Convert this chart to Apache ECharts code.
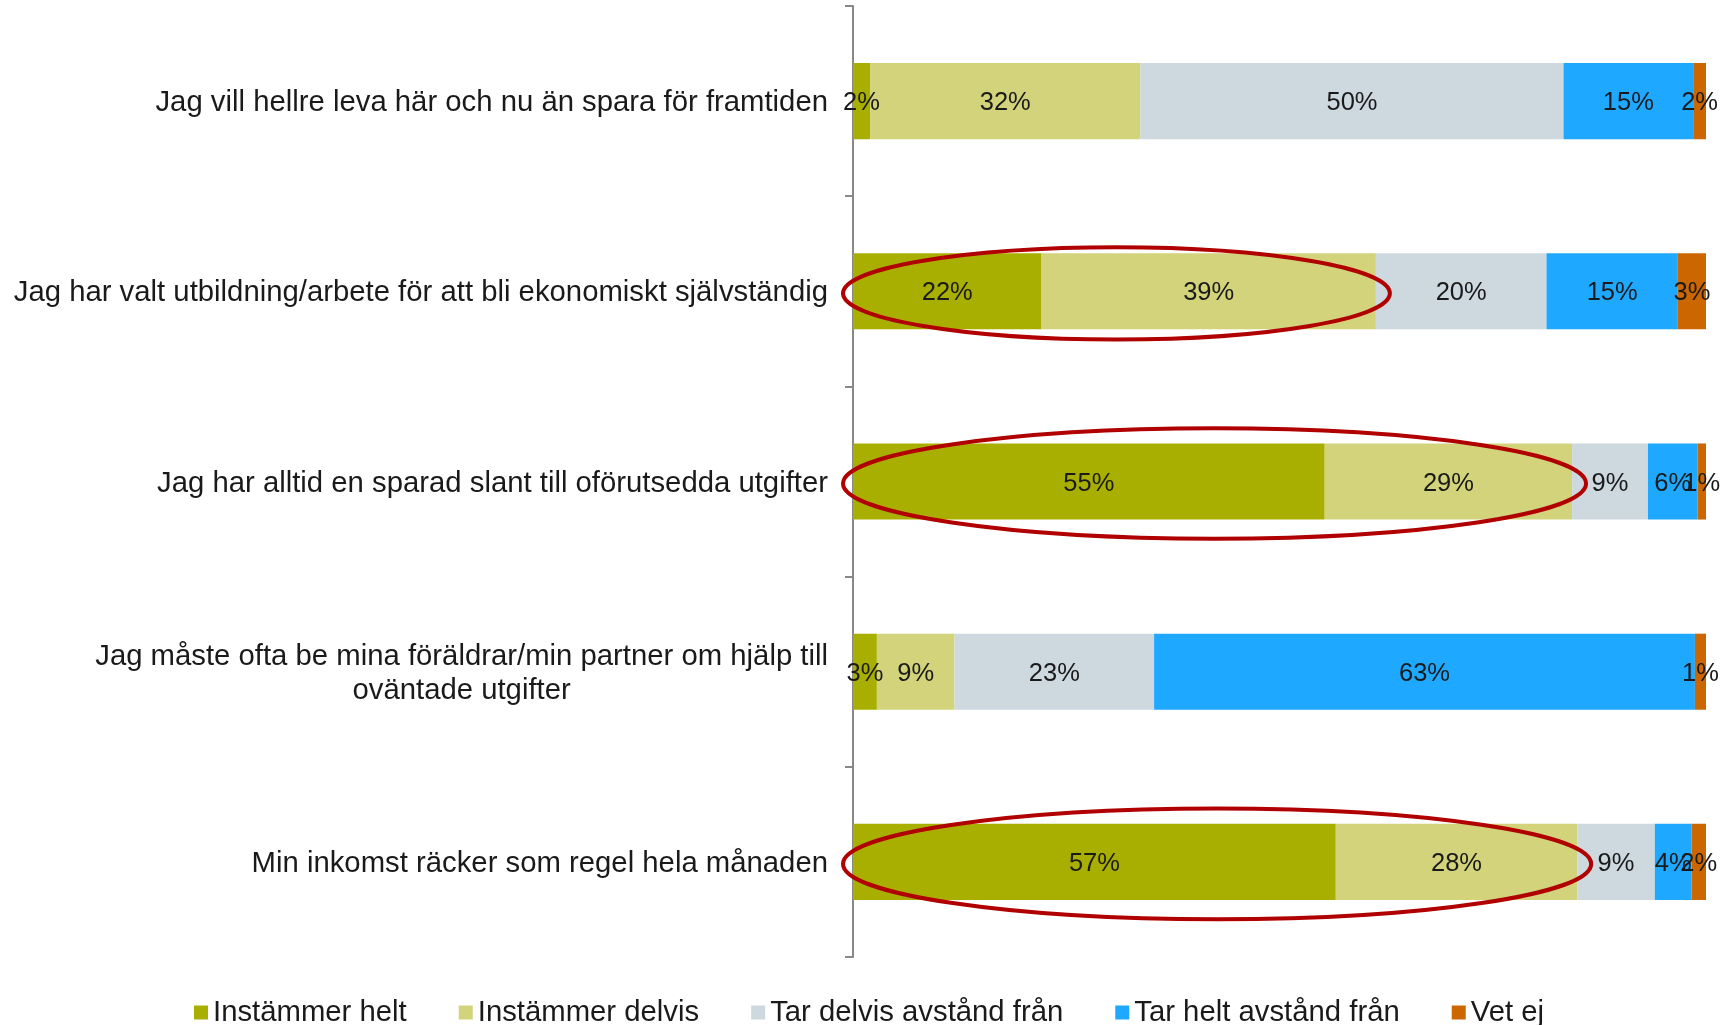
<!DOCTYPE html>
<html>
<head>
<meta charset="utf-8">
<script src="https://cdn.jsdelivr.net/npm/echarts@6/dist/echarts.min.js"></script>
<style>
html,body{margin:0;padding:0;background:#fff;}
#chart{width:1731px;height:1025px;}
</style>
</head>
<body>
<div id="chart"></div>
<script>
// ---- data (percent, rows top to bottom) ----
const categories = [
  'Jag vill hellre leva här och nu än spara för framtiden',
  'Jag har valt utbildning/arbete för att bli ekonomiskt självständig',
  'Jag har alltid en sparad slant till oförutsedda utgifter',
  'Jag måste ofta be mina föräldrar/min partner om hjälp till\noväntade utgifter',
  'Min inkomst räcker som regel hela månaden'
];
const seriesNames = ['Instämmer helt', 'Instämmer delvis', 'Tar delvis avstånd från', 'Tar helt avstånd från', 'Vet ej'];
const instammerHelt   = [2.0, 22.1, 55.3, 2.8, 56.6];
const instammerDelvis = [31.7, 39.2, 29.0, 9.1, 28.3];
const tarDelvis       = [49.6, 20.0, 8.9, 23.4, 9.1];
const tarHelt         = [15.2, 15.4, 5.8, 63.4, 4.3];
const vetEj           = [1.5, 3.4, 1.0, 1.3, 1.7];
// rows whose first two segments are circled
const circledRows = [1, 2, 4];

const colors = ['#A9AF00', '#D2D37A', '#CDD8DF', '#1FA8FF', '#CC6600'];
const FONT = '"Liberation Sans", Arial, sans-serif';
const catFontSize = 29.3;

const allSeries = [instammerHelt, instammerDelvis, tarDelvis, tarHelt, vetEj];

// measure width of multi-line labels so lines can be centered
const mctx = document.createElement('canvas').getContext('2d');
mctx.font = catFontSize + 'px "Liberation Sans"';
function labelWidth(s) {
  return Math.max(...s.split('\n').map(l => mctx.measureText(l).width));
}

const chart = echarts.init(document.getElementById('chart'), null, {renderer: 'canvas'});

const barSeries = seriesNames.map((name, i) => ({
  name: name,
  type: 'bar',
  stack: 'total',
  barWidth: '40%',
  data: allSeries[i],
  itemStyle: {color: colors[i]},
  label: {
    show: true,
    position: 'inside',
    offset: [0, 2],
    formatter: p => Math.round(p.value) + '%',
    fontSize: 25.5,
    fontFamily: FONT,
    color: '#1a1a1a'
  },
  emphasis: {disabled: true},
  animation: false
}));

const ellipseData = circledRows.map(r => [r, instammerHelt[r] + instammerDelvis[r]]);

const ellipseSeries = {
  type: 'custom',
  name: 'ring',
  coordinateSystem: 'cartesian2d',
  data: ellipseData,
  encode: {x: 1, y: 0},
  clip: false,
  z: 10,
  silent: true,
  animation: false,
  renderItem: function (params, api) {
    const row = api.value(0);
    const end = api.value(1);
    const p0 = api.coord([0, row]);
    const p1 = api.coord([end, row]);
    const pad = 12;
    const rx = (p1[0] - p0[0]) / 2 + pad;
    const ry = 21 + 0.092 * rx;
    return {
      type: 'ellipse',
      shape: {cx: (p0[0] + p1[0]) / 2 + 2, cy: p0[1] + 2, rx: rx, ry: ry},
      style: {fill: null, stroke: '#B00000', lineWidth: 4}
    };
  }
};

chart.setOption({
  backgroundColor: '#ffffff',
  animation: false,
  textStyle: {fontFamily: FONT},
  grid: {left: 853, right: 25, top: 6, bottom: 68, containLabel: false},
  legend: {
    data: seriesNames,
    left: 189,
    top: 993,
    icon: 'rect',
    itemWidth: 14,
    itemHeight: 14,
    itemGap: 52,
    textStyle: {fontSize: 29.3, fontFamily: FONT, color: '#1a1a1a'}
  },
  xAxis: {
    type: 'value',
    min: 0,
    max: 100,
    show: false
  },
  yAxis: {
    type: 'category',
    inverse: true,
    data: categories,
    axisLine: {show: true, lineStyle: {color: '#888888', width: 2}},
    axisTick: {show: true, length: 8, lineStyle: {color: '#888888', width: 2}},
    axisLabel: {
      margin: 25,
      fontSize: catFontSize,
      fontFamily: FONT,
      color: '#1a1a1a',
      lineHeight: 34,
      padding: [4, 0, 0, 0],
      formatter: function (v) {
        if (v.indexOf('\n') < 0) return v;
        return v.split('\n').map(l => '{c|' + l + '}').join('\n');
      },
      rich: {
        c: {
          width: labelWidth(categories[3]),
          align: 'center',
          fontSize: catFontSize,
          fontFamily: FONT,
          color: '#1a1a1a',
          lineHeight: 34
        }
      }
    }
  },
  series: barSeries.concat([ellipseSeries])
});
</script>
</body>
</html>
